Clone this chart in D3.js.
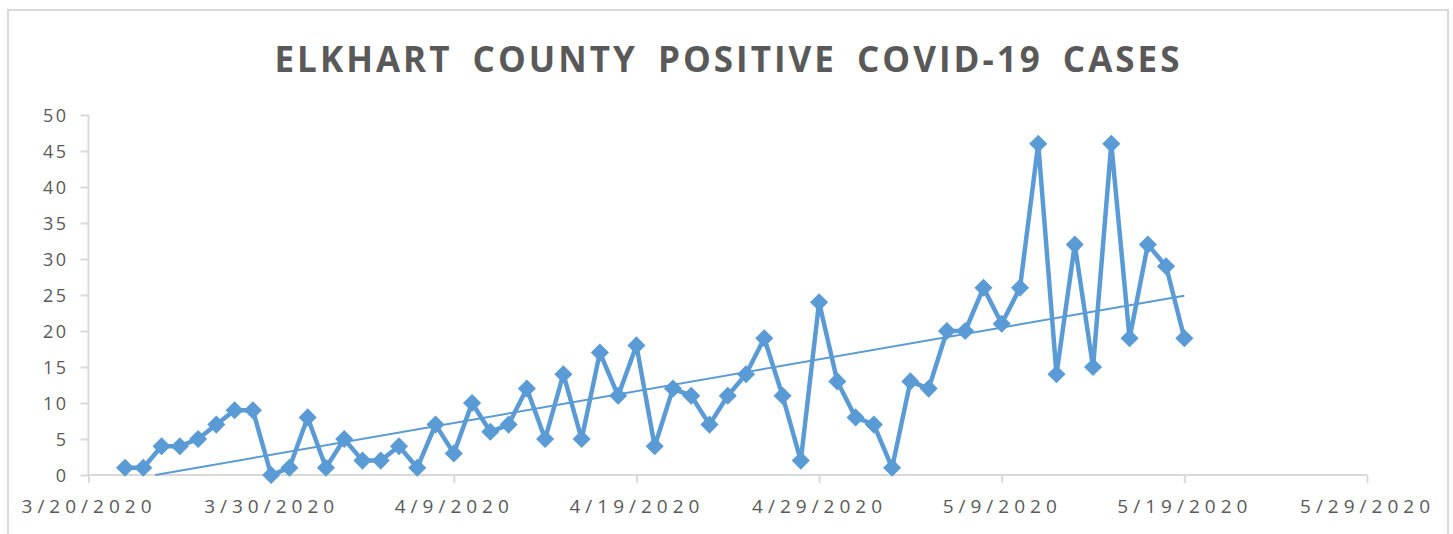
<!DOCTYPE html>
<html>
<head>
<meta charset="utf-8">
<script src="https://cdn.jsdelivr.net/npm/d3@7"></script>
<style>
  body { margin: 0; background: #fff; }
  text { font-family: "Open Sans", sans-serif; fill: #595959; }
</style>
</head>
<body>
<div id="chart"></div>
<script>
// daily new positive cases, 3/22/2020 .. 5/19/2020
var startDate = "2020-03-22";
var cases = [1,1,4,4,5,7,9,9,0,1,
             8,1,5,2,2,4,1,7,3,10,
             6,7,12,5,14,5,17,11,18,4,
             12,11,7,11,14,19,11,2,24,13,
             8,7,1,13,12,20,20,26,21,26,
             46,14,32,15,46,19,32,29,19];
var xTickDates = ["2020-03-20","2020-03-30","2020-04-09","2020-04-19","2020-04-29","2020-05-09","2020-05-19","2020-05-29"];
var yTicks = [0,5,10,15,20,25,30,35,40,45,50];

var width = 1453, height = 534;
var blue = "#5b9bd5";

var parse = d3.timeParse("%Y-%m-%d");
var day0 = parse(startDate);
var data = cases.map(function(v, i) {
  return { date: d3.timeDay.offset(day0, i), value: v };
});

var svg = d3.select("#chart").append("svg")
  .attr("width", width)
  .attr("height", height);

// chart border
svg.append("rect")
  .attr("x", 8).attr("y", 10)
  .attr("width", 1440).attr("height", 540)
  .attr("fill", "none")
  .attr("stroke", "#d9d9d9")
  .attr("stroke-width", 2);

svg.append("text")
  .attr("x", 727).attr("y", 72)
  .attr("text-anchor", "middle")
  .attr("textLength", 905)
  .attr("lengthAdjust", "spacing")
  .style("font-size", "35px")
  .style("font-weight", "bold")
  .style("word-spacing", "8px")
  .text("ELKHART COUNTY POSITIVE COVID-19 CASES");

var x = d3.scaleTime()
  .domain([parse(xTickDates[0]), parse(xTickDates[xTickDates.length - 1])])
  .range([88.5, 1367]);
var y = d3.scaleLinear().domain([0, 50]).range([475, 115]);

// y axis
var yAxis = d3.axisLeft(y).tickValues(yTicks).tickSize(8).tickPadding(12);
var gy = svg.append("g").attr("transform", "translate(88.5,0)").call(yAxis);
gy.selectAll("path, line").attr("stroke", "#d9d9d9").attr("stroke-width", 2);
gy.select(".domain").attr("d", "M0," + y(50) + "V" + y(0));
gy.selectAll("text")
  .style("font-size", "18px")
  .style("letter-spacing", "2.5px")
  .attr("fill", "#595959")
  .attr("dy", "0.35em");

// x axis
var fmt = function(d) { return (d.getMonth() + 1) + "/" + d.getDate() + "/" + d.getFullYear(); };
var xAxis = d3.axisBottom(x).tickValues(xTickDates.map(parse)).tickFormat(fmt).tickSize(8).tickPadding(17);
var gx = svg.append("g").attr("transform", "translate(0,475)").call(xAxis);
gx.selectAll("path, line").attr("stroke", "#d9d9d9").attr("stroke-width", 2);
gx.select(".domain").attr("d", "M" + x.range()[0] + ",0H" + x.range()[1]);
gx.selectAll("text")
  .style("font-size", "19px")
  .style("letter-spacing", "5px")
  .attr("fill", "#595959");

// linear trendline (least squares), clipped at y = 0
var n = data.length;
var xm = d3.mean(data, function(d, i) { return i; });
var ym = d3.mean(data, function(d) { return d.value; });
var sxy = d3.sum(data, function(d, i) { return (i - xm) * (d.value - ym); });
var sxx = d3.sum(data, function(d, i) { return (i - xm) * (i - xm); });
var slope = sxy / sxx, icpt = ym - slope * xm;
var i0 = Math.max(0, -icpt / slope);
var trend = [
  { date: new Date(+day0 + i0 * 864e5), value: icpt + slope * i0 },
  { date: data[n - 1].date, value: icpt + slope * (n - 1) }
];
svg.append("path")
  .datum(trend)
  .attr("fill", "none")
  .attr("stroke", blue)
  .attr("stroke-width", 2)
  .attr("d", d3.line().x(function(d) { return x(d.date); }).y(function(d) { return y(d.value); }));

// series
svg.append("path")
  .datum(data)
  .attr("fill", "none")
  .attr("stroke", blue)
  .attr("stroke-width", 4.5)
  .attr("stroke-linejoin", "round")
  .attr("d", d3.line().x(function(d) { return x(d.date); }).y(function(d) { return y(d.value); }));

svg.append("g").selectAll("path")
  .data(data)
  .enter().append("path")
  .attr("d", d3.symbol(d3.symbolSquare, 128))
  .attr("transform", function(d) { return "translate(" + x(d.date) + "," + y(d.value) + ") rotate(45)"; })
  .attr("fill", blue)
  .attr("stroke", blue)
  .attr("stroke-width", 1.5);
</script>
</body>
</html>
